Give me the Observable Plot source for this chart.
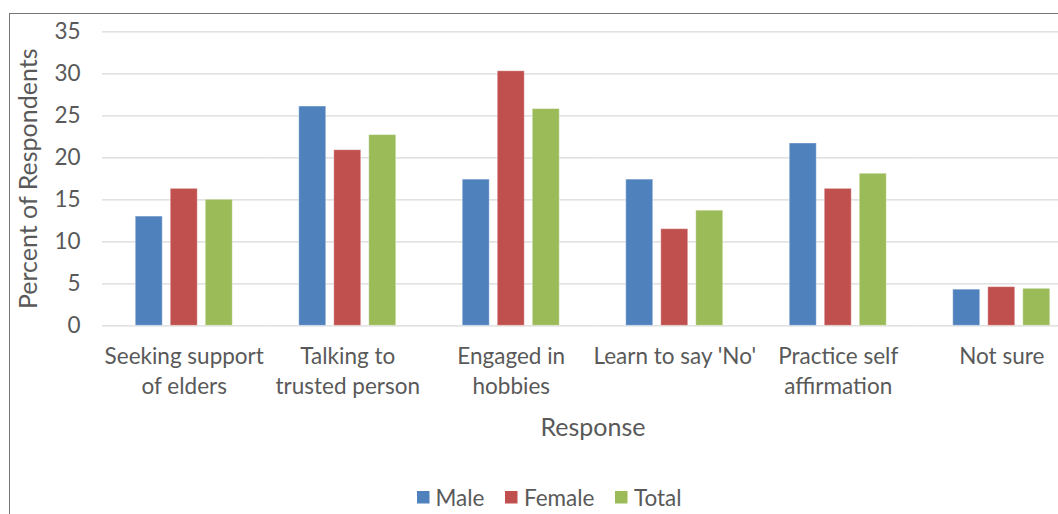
<!DOCTYPE html>
<html><head><meta charset="utf-8">
<script src="https://cdn.jsdelivr.net/npm/d3@7"></script>
<script src="https://cdn.jsdelivr.net/npm/@observablehq/plot@0.6"></script>
<style>
body{margin:0;background:#fff;}
#wrap{position:relative;width:1058px;height:514px;overflow:hidden;background:#fff;}
#border{position:absolute;left:9px;top:13px;width:1100px;height:600px;border-left:1.5px solid #767676;border-top:1.5px solid #767676;box-sizing:border-box;}
#chart{position:absolute;left:0;top:0;}
#legend{position:absolute;left:417px;top:481px;}
#legend .lg-swatches{font-family:Lato,sans-serif !important;font-size:22.5px !important;color:#595959 !important;margin:0 !important;min-height:33px;display:flex;align-items:center;}
#legend .lg-swatch{margin-right:21px !important;}
#legend .lg-swatch > svg{margin-right:6px !important;}
</style></head>
<body><div id="wrap"><div id="border"></div><div id="chart"></div><div id="legend"></div></div>
<script>
const categories = ["Seeking support of elders", "Talking to trusted person", "Engaged in hobbies", "Learn to say 'No'", "Practice self affirmation", "Not sure"];
const categoryLabels = ["Seeking support\nof elders", "Talking to\ntrusted person", "Engaged in\nhobbies", "Learn to say 'No'", "Practice self\naffirmation", "Not sure"];
const series = ["Male", "Female", "Total"];
const male = [13.0, 26.1, 17.4, 17.4, 21.7, 4.3];
const female = [16.3, 20.9, 30.3, 11.5, 16.3, 4.6];
const total = [15.0, 22.7, 25.8, 13.7, 18.1, 4.4];
const colors = ["#4F81BD", "#C0504D", "#9BBB59"];
const yTicks = [0, 5, 10, 15, 20, 25, 30, 35];

const seriesValues = {Male: male, Female: female, Total: total};
const data = categories.flatMap((c, i) => series.map(s => ({category: c, series: s, value: seriesValues[s][i]})));

const chart = Plot.plot({
  width: 1058,
  height: 470,
  marginTop: 31.3,
  marginBottom: 144.7,
  marginLeft: 102,
  marginRight: -25,
  style: {fontFamily: "Lato, sans-serif", fontSize: "22.5px", color: "#595959", background: "transparent", overflow: "visible"},
  fx: {domain: categories, padding: 0, round: false},
  x: {domain: series, paddingInner: 0.23, paddingOuter: 0.95, round: false, axis: null},
  y: {domain: [0, 35]},
  color: {domain: series, range: colors},
  marks: [
    Plot.gridY(yTicks, {stroke: "#d9d9d9", strokeOpacity: 1, strokeWidth: 1.2}),
    Plot.barY(data, {fx: "category", x: "series", y: "value", fill: "series", stroke: "#ffffff", strokeOpacity: 0.35, strokeWidth: 1}),
    Plot.axisY(yTicks, {tickSize: 0, tickPadding: 22, label: null, fontSize: 22.5}),
    Plot.axisY([], {label: "Percent of Respondents", labelArrow: "none", labelAnchor: "center", labelOffset: 83, fontSize: 25}),
    Plot.axisFx({anchor: "bottom", tickSize: 0, tickPadding: 17, tickFormat: d => categoryLabels[categories.indexOf(d)], lineHeight: 1.33, label: null, fontSize: 22.5}),
    Plot.axisFx([], {anchor: "bottom", label: "Response", labelArrow: "none", labelAnchor: "center", labelOffset: 110, fontSize: 25})
  ]
});
document.getElementById("chart").append(chart);

const legend = Plot.legend({color: {domain: series, range: colors}, legend: "swatches", swatchSize: 12.5, className: "lg"});
document.getElementById("legend").append(legend);
</script>
</body></html>
